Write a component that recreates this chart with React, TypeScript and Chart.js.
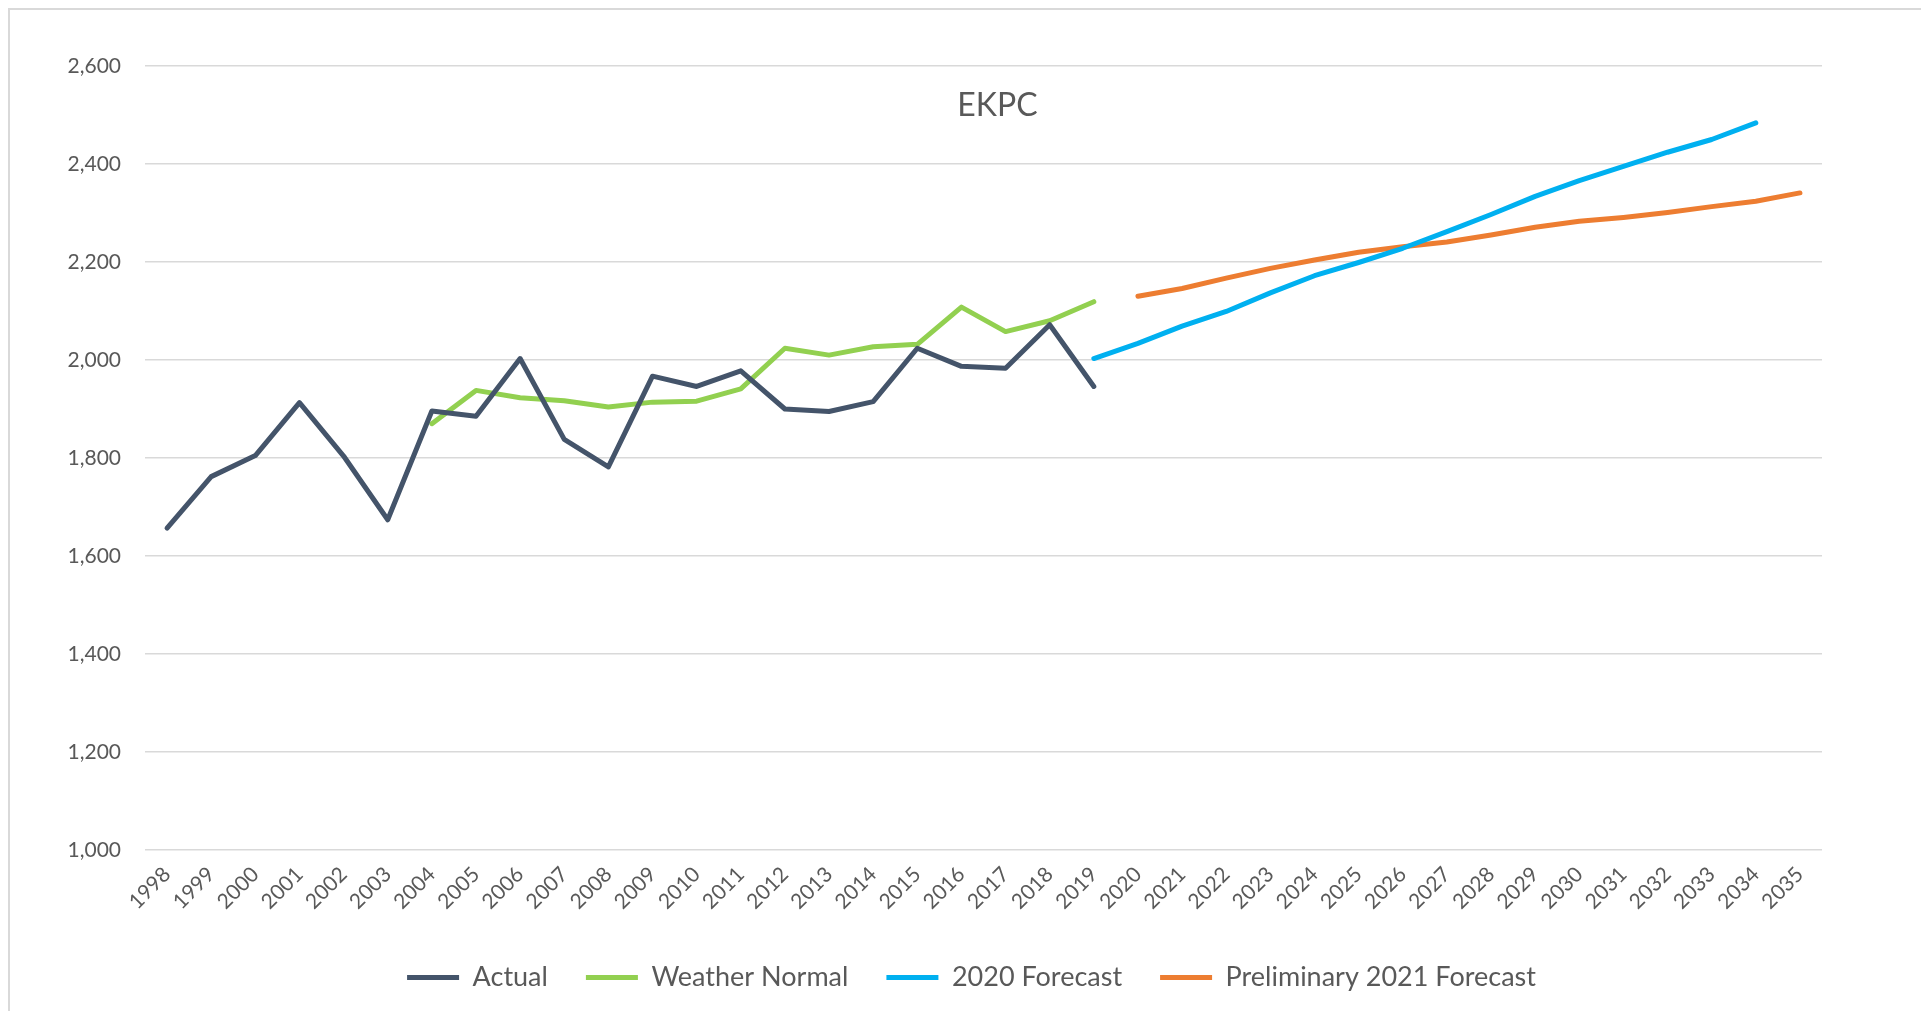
import React, { useEffect, useRef } from "react";
import { Chart, registerables } from "chart.js";

Chart.register(...registerables);

const TITLE = "EKPC";

const years: string[] = [
  "1998", "1999", "2000", "2001", "2002", "2003", "2004", "2005", "2006", "2007",
  "2008", "2009", "2010", "2011", "2012", "2013", "2014", "2015", "2016", "2017",
  "2018", "2019", "2020", "2021", "2022", "2023", "2024", "2025", "2026", "2027",
  "2028", "2029", "2030", "2031", "2032", "2033", "2034", "2035",
];

// Actual: 1998–2019
const actualStart = "1998";
const actualValues = [
  1657, 1762, 1805, 1913, 1804, 1674, 1896, 1885, 2003, 1838,
  1782, 1967, 1946, 1978, 1900, 1895, 1915, 2024, 1987, 1983,
  2072, 1946,
];

// Weather Normal: 2004–2019
const weatherStart = "2004";
const weatherValues = [
  1870, 1938, 1923, 1917, 1904, 1914, 1916, 1941, 2024, 2010,
  2027, 2032, 2108, 2058, 2080, 2119,
];

// 2020 Forecast: 2019–2034
const forecast2020Start = "2019";
const forecast2020Values = [
  2003, 2034, 2069, 2099, 2137, 2172, 2199, 2228, 2262, 2297,
  2334, 2366, 2395, 2424, 2450, 2484,
];

// Preliminary 2021 Forecast: 2020–2035
const forecast2021Start = "2020";
const forecast2021Values = [
  2130, 2146, 2167, 2187, 2204, 2220, 2231, 2241, 2255, 2271,
  2283, 2291, 2301, 2313, 2324, 2341,
];

const yMin = 1000;
const yMax = 2600;
const yStep = 200;

function alignToYears(start: string, values: number[]): (number | null)[] {
  const offset = years.indexOf(start);
  return years.map((_, i) => {
    const j = i - offset;
    return j >= 0 && j < values.length ? values[j] : null;
  });
}

const TEXT = "#595959";
const FONT = "Lato, 'Open Sans', sans-serif";

const insideTitle = {
  id: "insideTitle",
  afterDraw(chart: any) {
    const { ctx, chartArea } = chart;
    ctx.save();
    ctx.font = `32px ${FONT}`;
    ctx.fillStyle = TEXT;
    ctx.textAlign = "center";
    ctx.textBaseline = "middle";
    ctx.fillText(TITLE, (chartArea.left + chartArea.right) / 2 + 14, chartArea.top + 40);
    ctx.restore();
  },
};

const legendShift = {
  id: "legendShift",
  afterLayout(chart: any) {
    const lg = chart.legend;
    if (lg) {
      lg.left -= 12;
      lg.right -= 12;
    }
  },
};

function makeDataset(label: string, data: (number | null)[], color: string) {
  return {
    label,
    data,
    borderColor: color,
    backgroundColor: color,
    borderWidth: 5,
    borderCapStyle: "round" as const,
    borderJoinStyle: "round" as const,
    pointRadius: 0,
    pointHoverRadius: 0,
    tension: 0,
    spanGaps: false,
    fill: false,
  };
}

export default function App() {
  const canvasRef = useRef<HTMLCanvasElement | null>(null);

  useEffect(() => {
    if (!canvasRef.current) return;
    const chart = new Chart(canvasRef.current, {
      type: "line",
      data: {
        labels: years,
        datasets: [
          makeDataset("Actual", alignToYears(actualStart, actualValues), "#44546A"),
          makeDataset("Weather Normal", alignToYears(weatherStart, weatherValues), "#92D050"),
          makeDataset("2020 Forecast", alignToYears(forecast2020Start, forecast2020Values), "#00B0F0"),
          makeDataset("Preliminary 2021 Forecast", alignToYears(forecast2021Start, forecast2021Values), "#ED7D31"),
        ],
      },
      options: {
        animation: false,
        responsive: true,
        maintainAspectRatio: false,
        layout: { padding: { left: 0, right: 99, top: 56, bottom: 10 } },
        plugins: {
          legend: {
            position: "bottom",
            fullSize: false,
            labels: {
              usePointStyle: true,
              pointStyle: "line",
              pointStyleWidth: 52,
              padding: 38,
              color: TEXT,
              font: { family: FONT, size: 27 },
            },
          },
          tooltip: { enabled: false },
          title: { display: false },
        },
        scales: {
          x: {
            offset: true,
            grid: { display: false, drawTicks: false },
            border: { display: false },
            ticks: {
              autoSkip: false,
              maxRotation: 45,
              minRotation: 45,
              padding: 12,
              color: TEXT,
              font: { family: FONT, size: 21 },
            },
            afterFit: (s: any) => {
              s.height = 76;
            },
          },
          y: {
            min: yMin,
            max: yMax,
            ticks: {
              stepSize: yStep,
              padding: 24,
              color: TEXT,
              font: { family: FONT, size: 21 },
              callback: (v: any) => Number(v).toLocaleString("en-US"),
            },
            grid: { color: "#d9d9d9", lineWidth: 1.5, drawTicks: false },
            border: { display: false },
            afterFit: (s: any) => {
              s.width = 135;
            },
          },
        },
      },
      plugins: [insideTitle, legendShift],
    });
    return () => chart.destroy();
  }, []);

  return (
    <div
      style={{
        height: 1003,
        boxSizing: "border-box",
        borderTop: "2px solid #d9d9d9",
        borderLeft: "2px solid #d9d9d9",
        background: "#fff",
      }}
    >
      <div style={{ position: "relative", width: "100%", height: 1001 }}>
        <canvas ref={canvasRef} />
      </div>
    </div>
  );
}
